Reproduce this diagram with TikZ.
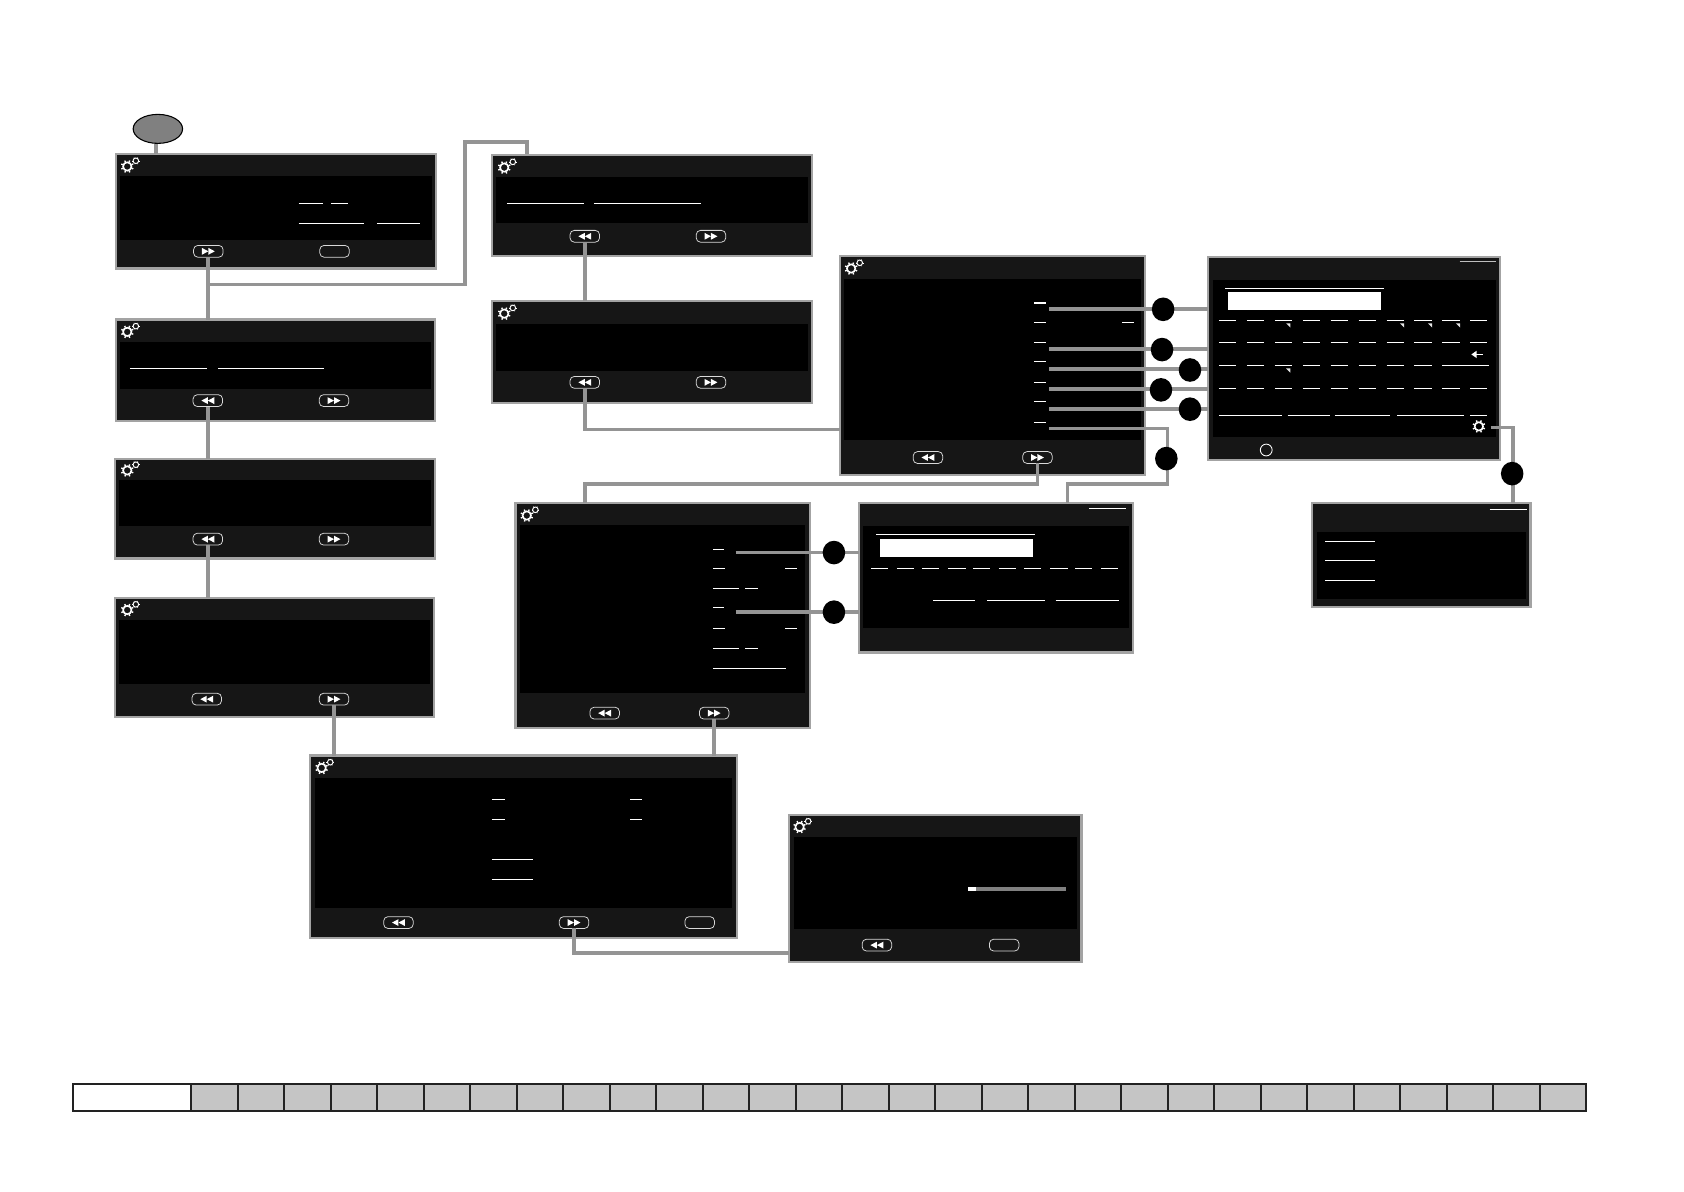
\documentclass[tikz,border=0pt]{standalone}
\usetikzlibrary{fit,calc,shapes.geometric}
\definecolor{scrdark}{HTML}{161616}
\definecolor{scrframe}{HTML}{A3A3A3}
\definecolor{conngray}{HTML}{949494}
\definecolor{cellgray}{HTML}{C5C5C5}
\definecolor{barline}{HTML}{222222}
\tikzset{
  screenbox/.style={draw=scrframe,line width=2pt,fill=scrdark,inner sep=0pt,outer sep=0pt},
  innerbox/.style={fill=black,inner sep=0pt,outer sep=0pt},
  btnbox/.style={draw=white!85!black,line width=.7pt,rounded corners=4pt,minimum width=27.5pt,minimum height=11pt,inner sep=0pt,outer sep=0pt},
  conn/.style={draw=conngray,line width=3.5pt},
  blackdot/.style={ellipse,fill=black,minimum width=21pt,minimum height=22pt,inner sep=0pt,outer sep=0pt},
  txtline/.style={draw=white,line width=.9pt},
  startoval/.style={ellipse,draw=black,line width=1pt,fill=black!50,minimum width=46pt,minimum height=27pt,inner sep=0pt,outer sep=0pt},
}
\newcommand{\scr}[7]{%
  \node[screenbox,fit={(#2,#3) (#4,#5)}] (#1) {};
  \node[innerbox,fit={($(#2,#6)+(4,0)$) ($(#4,#7)+(-4,0)$)}] (#1in) {};
}
\newcommand{\tl}[3]{\draw[txtline] (#1,#3) -- (#2,#3);}
\newcommand{\btnplain}[3]{\node[btnbox] (#1) at (#2,#3) {};}
\newcommand{\btnff}[3]{\node[btnbox] (#1) at (#2,#3) {};
  \fill[white] (#2-6,#3-3.2) -- (#2,#3) -- (#2-6,#3+3.2) -- cycle;
  \fill[white] (#2,#3-3.2) -- (#2+6,#3) -- (#2,#3+3.2) -- cycle;}
\newcommand{\btnrw}[3]{\node[btnbox] (#1) at (#2,#3) {};
  \fill[white] (#2+6,#3-3.2) -- (#2,#3) -- (#2+6,#3+3.2) -- cycle;
  \fill[white] (#2,#3-3.2) -- (#2-6,#3) -- (#2,#3+3.2) -- cycle;}
\newcommand{\biggear}[2]{%
  \draw[white,line width=1.5pt] (#1,#2) circle (3.9pt);
  \foreach \a in {22,67,...,337}{\draw[white,line width=1.3pt] ($(#1,#2)+(\a:4.2)$) -- ($(#1,#2)+(\a:6)$);}
}
\newcommand{\gears}[2]{%
  \biggear{#1}{#2}
  \draw[white,line width=.9pt] (#1+8,#2-5.3) circle (2.6pt);
  \foreach \a in {0,60,...,300}{\draw[white,line width=.5pt] ($(#1+8,#2-5.3)+(\a:2.8)$) -- ($(#1+8,#2-5.3)+(\a:3.6)$);}
}
\begin{document}
\begin{tikzpicture}[x=1pt,y=-1pt]
\useasboundingbox (0,0) rectangle (1568,1109);
\fill[white] (0,0) rectangle (1568,1109);

\scr{sa}{108}{143.5}{406}{250}{164}{223}
\scr{sb}{108}{297.5}{405}{392}{318}{362}
\scr{sc}{107}{427.5}{405}{520}{447}{490}
\scr{sd}{107}{556.5}{404}{667.5}{577}{637}
\scr{se}{458}{144.5}{756}{238}{165}{208}
\scr{sf}{458}{280.5}{756}{375}{302}{345}
\scr{sg}{782}{238.5}{1066}{442}{260}{410}
\scr{sh}{1125}{239.5}{1397}{428}{261}{407}
\scr{si}{1222}{468.5}{1425}{565}{495}{558}
\scr{sj}{800}{468.5}{1055}{607.5}{490}{585}
\scr{sk}{480}{468.5}{754}{678}{489}{645}
\scr{sl}{289}{703.5}{686}{873}{724}{845}
\scr{sm}{735}{758.5}{1007}{895.5}{779}{865}

\foreach \x/\y in {118.5/155,469.5/156,469.5/292,118.5/309,118.5/438,118.5/568,792.5/250,490.5/480,299.5/715,744.5/770}{\gears{\x}{\y}}

% buttons
\btnff{saff}{194}{234} \btnplain{sax}{311.5}{234}
\btnrw{sbrw}{193.5}{373} \btnff{sbff}{311}{373}
\btnrw{scrw}{193.5}{502} \btnff{scff}{311}{502}
\btnrw{sdrw}{192.5}{651} \btnff{sdff}{311}{651}
\btnrw{serw}{544.5}{220} \btnff{seff}{662}{220}
\btnrw{sfrw}{544.5}{356} \btnff{sfff}{662}{356}
\btnrw{sgrw}{864}{426} \btnff{sgff}{966}{426}
\btnrw{skrw}{563}{664} \btnff{skff}{665}{664}
\btnrw{slrw}{371}{859} \btnff{slff}{534.5}{859} \btnplain{slx}{651.5}{859}
\btnrw{smrw}{816.5}{880} \btnplain{smx}{935}{880}

% text placeholder lines
\tl{278}{301}{189} \tl{308}{324}{189} \tl{278}{339}{208} \tl{351}{391}{208}
\tl{121}{193}{343} \tl{203}{302}{343}
\draw[txtline,line width=1.1pt] (472,189.5) -- (544,189.5);
\draw[txtline,line width=1.1pt] (553,189.5) -- (653,189.5);
\draw[white,line width=1.7pt] (963,282) -- (974,282);
\tl{963}{974}{300} \tl{1045}{1056}{300}
\foreach \y in {319,337,356,374,393}{\tl{963}{974}{\y}}
% keyboard screen
\draw[line width=.9pt,draw=white!75!black] (1359,243) -- (1393,243);
\tl{1141}{1289}{269}
\fill[white] (1143,272) rectangle (1286,289);
\foreach \y in {298,318.5,361.5}{\foreach \x in {1135,1161,...,1369}{\tl{\x}{\x+16}{\y}}}
\foreach \x in {1135,1161,...,1317}{\tl{\x}{\x+16}{340}}
\tl{1343}{1386}{340}
\tl{1135}{1194}{386.5} \tl{1199}{1238}{386.5} \tl{1243}{1294}{386.5} \tl{1301}{1363}{386.5} \tl{1369}{1385}{386.5}
\foreach \x/\y in {1201.5/301,1307.5/301,1333.5/301,1359.5/301,1201.5/343}{\fill[white!90!black] (\x-4,\y) -- (\x,\y) -- (\x,\y+4) -- cycle;}
\draw[white,line width=1pt] (1372,330) -- (1381,330);
\fill[white] (1370,330) -- (1375,326.5) -- (1375,333.5) -- cycle;
\biggear{1377}{397}
\node[circle,draw=white,line width=.8pt,minimum size=11pt,inner sep=0pt] (shhome) at (1179,419) {};
% small screen, right
\tl{1387}{1422}{474}
\foreach \y in {504.5,522,540.5}{\tl{1234}{1280}{\y}}
% entry screen
\tl{1014}{1048}{473} \tl{816}{964}{498}
\fill[white] (819,502) rectangle (962,519);
\foreach \a/\b in {811/827,835/851,858.5/874,883/899,906/922,930/946,953.5/969,978/994,1001/1017,1025/1041}{\tl{\a}{\b}{529}}
\tl{869}{908}{559} \tl{919}{973}{559} \tl{983}{1042}{559}
% list screen
\tl{664}{674}{511.5} \tl{664}{675}{529} \tl{731}{742}{529}
\tl{664}{688}{548} \tl{694}{706}{548}
\tl{664}{674}{566} \tl{664}{675}{585} \tl{731}{742}{585}
\tl{664}{688}{603.5} \tl{694}{706}{603.5} \tl{664}{732}{622}
% bottom-mid screen
\tl{458}{470}{744} \tl{587}{598}{744} \tl{458}{470}{763} \tl{587}{598}{763}
\tl{458}{496}{800} \tl{458}{496}{819}
% progress
\fill[black!50] (901,826) rectangle (993,830);
\fill[white] (901,826) rectangle (909,830);

% named free ends
\foreach \n/\x/\y in {ga/977/288,gb/977/325,gc/977/343.5,gd/977/362.5,ge/977/380.5,gf/977/399,ka/685/514.5,kb/685/570,hg/1388/398}{\coordinate (\n) at (\x,\y);}

% connectors
\draw[conn] (145.5,132) -- (145.5,143);
\draw[conn] (saff.south) -- (saff.south |- sb.north);
\draw[conn] (saff.south |- 0,265) -- (433,265) -- (433,132) -- (491,132) -- (491,143);
\draw[conn] (sbrw.south) -- (sbrw.south |- sc.north);
\draw[conn] (scrw.south) -- (scrw.south |- sd.north);
\draw[conn] (sdff.south) -- (sdff.south |- sl.north);
\draw[conn] (serw.south) -- (serw.south |- sf.north);
\draw[conn] (sfrw.south) -- (sfrw.south |- 0,400) -- (sg.west |- 0,400);
\draw[conn] (sgff.south) -- (sgff.south |- 0,451) -- (545,451) -- (545,468);
\draw[conn] (gf) -- (1087,399) -- (1087,451) -- (994,451) -- (994,468);
\foreach \n in {ga,gb,gc,gd,ge}{\draw[conn] (\n) -- (\n -| sh.west);}
\draw[conn] (ka) -- (ka -| sj.west);
\draw[conn] (kb) -- (kb -| sj.west);
\draw[conn] (hg) -- (1409,398) -- (1409,468);
\draw[conn] (skff.south) -- (skff.south |- sl.north);
\draw[conn] (slff.south) -- (slff.south |- 0,887) -- (sm.west |- 0,887);
\node[startoval] (start) at (147,120) {};

% black dots
\node[blackdot] (da) at (1083,288) {};
\node[blackdot] (db) at (1082,325.5) {};
\node[blackdot] (dc) at (1108,344.5) {};
\node[blackdot] (dd) at (1081,363) {};
\node[blackdot] (de) at (1108,381) {};
\node[blackdot] (df) at (1086,427) {};
\node[blackdot] (dg) at (1408,441) {};
\node[blackdot] (dh) at (776.5,514.5) {};
\node[blackdot] (di) at (776.5,570) {};

% bottom bar
\fill[white] (68,1009.5) rectangle (178,1034.5);
\fill[cellgray] (178,1009.5) rectangle (1477,1034.5);
\foreach \i in {0,...,29}{\draw[barline,line width=1.9pt] (178+43.3*\i,1009.5) -- (178+43.3*\i,1034.5);}
\draw[barline,line width=2.2pt] (68,1009.5) rectangle (1477,1034.5);
\end{tikzpicture}
\end{document}
